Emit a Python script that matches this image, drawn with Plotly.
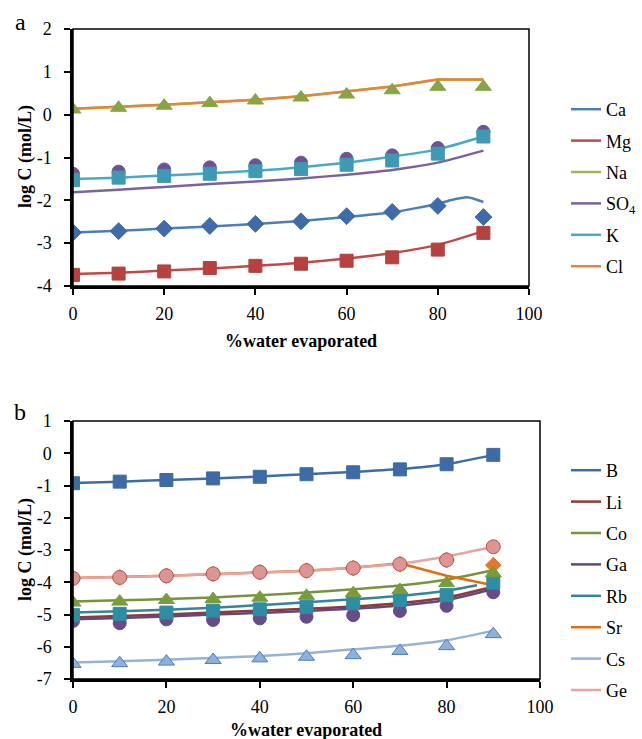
import plotly.graph_objects as go

# ---------------- Data: panel a ----------------
x_pts = [0, 10, 20, 30, 40, 50, 60, 70, 80, 90]

ca_line_x = [0, 10, 20, 30, 40, 50, 60, 70, 80, 83, 86.5, 90]
ca_line = [-2.75, -2.71, -2.66, -2.61, -2.55, -2.48, -2.39, -2.28, -2.08, -1.99, -1.93, -2.04]
mg_line = [-3.72, -3.69, -3.64, -3.59, -3.53, -3.46, -3.36, -3.23, -3.04, -2.72]
na_line = [0.14, 0.18, 0.23, 0.29, 0.35, 0.43, 0.55, 0.66, 0.82, 0.82]
so4_line = [-1.81, -1.75, -1.69, -1.62, -1.56, -1.49, -1.40, -1.29, -1.12, -0.84]
k_line = [-1.50, -1.47, -1.42, -1.37, -1.31, -1.23, -1.12, -0.98, -0.81, -0.51]
cl_line = [0.14, 0.18, 0.23, 0.29, 0.35, 0.43, 0.55, 0.66, 0.82, 0.82]

ca_meas = [-2.75, -2.72, -2.66, -2.60, -2.55, -2.49, -2.37, -2.27, -2.13, -2.39]
mg_meas = [-3.74, -3.71, -3.66, -3.58, -3.53, -3.48, -3.41, -3.33, -3.15, -2.76]
na_meas = [0.12, 0.16, 0.21, 0.27, 0.33, 0.40, 0.47, 0.57, 0.65, 0.65]
so4_meas = [-1.38, -1.33, -1.28, -1.23, -1.18, -1.12, -1.03, -0.95, -0.78, -0.40]
k_meas = [-1.53, -1.47, -1.43, -1.38, -1.32, -1.27, -1.17, -1.07, -0.91, -0.51]

# ---------------- Data: panel b ----------------
b_line = [-0.92, -0.88, -0.83, -0.78, -0.72, -0.65, -0.58, -0.49, -0.34, -0.05]
li_line = [-5.09, -5.05, -5.00, -4.94, -4.88, -4.82, -4.75, -4.64, -4.47, -4.14]
co_line = [-4.60, -4.56, -4.52, -4.47, -4.40, -4.32, -4.22, -4.10, -3.92, -3.63]
ga_line = [-5.15, -5.11, -5.06, -5.00, -4.95, -4.89, -4.82, -4.72, -4.55, -4.21]
rb_line_x = [0, 10, 20, 30, 40, 50, 60, 70, 80, 86.5]
rb_line = [-4.94, -4.90, -4.85, -4.79, -4.71, -4.62, -4.53, -4.42, -4.26, -4.09]
sr_line = [-3.87, -3.84, -3.80, -3.75, -3.70, -3.64, -3.55, -3.41, -3.80, -4.09]
cs_line = [-6.49, -6.45, -6.40, -6.35, -6.29, -6.20, -6.08, -5.97, -5.80, -5.50]
ge_line = [-3.87, -3.84, -3.80, -3.75, -3.70, -3.64, -3.55, -3.42, -3.20, -2.90]

b_meas = [-0.93, -0.88, -0.83, -0.78, -0.73, -0.65, -0.59, -0.50, -0.34, -0.05]
co_meas = [-4.63, -4.60, -4.55, -4.52, -4.48, -4.42, -4.34, -4.24, -4.03, -3.72]
ga_meas = [-5.20, -5.27, -5.15, -5.17, -5.12, -5.07, -5.02, -4.89, -4.73, -4.31]
rb_meas = [-5.02, -4.98, -4.94, -4.88, -4.84, -4.76, -4.65, -4.55, -4.40, -4.01]
sr_meas = [-3.88, -3.85, -3.80, -3.74, -3.69, -3.64, -3.56, -3.44, -3.31, -3.47]
cs_meas = [-6.53, -6.51, -6.46, -6.41, -6.36, -6.31, -6.26, -6.13, -5.98, -5.61]
ge_meas = [-3.88, -3.85, -3.80, -3.74, -3.69, -3.64, -3.56, -3.44, -3.31, -2.90]

x_ticks = [0, 20, 40, 60, 80, 100]
ya_ticks = [2, 1, 0, -1, -2, -3, -4]
ya_ticktext = ["2", "1", "0", "-1", "-2", "-3", "-4"]
yb_ticks = [1, 0, -1, -2, -3, -4, -5, -6, -7]
yb_ticktext = ["1", "0", "-1", "-2", "-3", "-4", "-5", "-6", "-7"]

FONT = "Liberation Serif, Times New Roman, serif"

fig = go.Figure()


def line(x, y, name, color, xa, ya, leg, group, width=2.5, shape="spline"):
    fig.add_trace(go.Scatter(
        x=x, y=y, name=name, mode="lines",
        line=dict(color=color, width=width, shape=shape,
                  smoothing=0.6 if shape == "spline" else None),
        xaxis=xa, yaxis=ya, legend=leg, legendgroup=group,
        hoverinfo="skip"))


def marks(x, y, symbol, color, xa, ya, size=12, edge=None):
    fig.add_trace(go.Scatter(
        x=x, y=y, mode="markers", showlegend=False,
        marker=dict(symbol=symbol, color=color, size=size,
                    line=dict(color=edge or color, width=1)),
        xaxis=xa, yaxis=ya, hoverinfo="skip"))


# Panel a lines
line(ca_line_x, ca_line, "Ca", "#4A7EBB", "x", "y", "legend", "a1")
line(x_pts, mg_line, "Mg", "#BE4B48", "x", "y", "legend", "a2")
line(x_pts, na_line, "Na", "#98B954", "x", "y", "legend", "a3", shape="linear")
line(x_pts, so4_line, "SO<sub>4</sub>", "#7D60A0", "x", "y", "legend", "a4")
line(x_pts, k_line, "K", "#46AAC5", "x", "y", "legend", "a5")
line(x_pts, cl_line, "Cl", "#E8843A", "x", "y", "legend", "a6", shape="linear")

# Panel a markers
marks(x_pts, ca_meas, "diamond", "#3F6CA8", "x", "y", size=13)
marks(x_pts, mg_meas, "square", "#B5423F", "x", "y", size=13)
marks(x_pts, na_meas, "triangle-up", "#86A544", "x", "y", size=14)
marks(x_pts, so4_meas, "circle", "#6E5394", "x", "y", size=13)
marks(x_pts, k_meas, "square", "#3E9AB3", "x", "y", size=13)

# Panel b lines
line(x_pts, b_line, "B", "#3C6BA5", "x2", "y2", "legend2", "b1")
line(x_pts, li_line, "Li", "#953735", "x2", "y2", "legend2", "b2")
line(x_pts, co_line, "Co", "#77933C", "x2", "y2", "legend2", "b3")
line(x_pts, ga_line, "Ga", "#5F4A7D", "x2", "y2", "legend2", "b4")
line(rb_line_x, rb_line, "Rb", "#31859C", "x2", "y2", "legend2", "b5")
line(x_pts, sr_line, "Sr", "#E46C0A", "x2", "y2", "legend2", "b6", shape="linear")
line(x_pts, cs_line, "Cs", "#95B3D7", "x2", "y2", "legend2", "b7")
line(x_pts, ge_line, "Ge", "#E6A3A2", "x2", "y2", "legend2", "b8")

# Panel b markers
marks(x_pts, b_meas, "square", "#3C6BA5", "x2", "y2", size=13)
marks(x_pts, sr_meas, "diamond", "#E2782A", "x2", "y2", size=12)
marks(x_pts, ga_meas, "circle", "#664D8A", "x2", "y2", size=13)
marks(x_pts, rb_meas, "square", "#2E8DA3", "x2", "y2", size=13)
marks(x_pts, co_meas, "triangle-up", "#7A9B3C", "x2", "y2", size=14)
marks(x_pts, cs_meas, "triangle-up", "#8DB0DC", "x2", "y2", size=14, edge="#4A7EBB")
marks(x_pts, ge_meas, "circle", "#DB9593", "x2", "y2", size=14, edge="#C0504D")

W, H = 642, 739


def px(v):
    return v / W


def py(v):
    return 1 - v / H


axis_common = dict(
    showgrid=False, zeroline=False, showline=True, linecolor="black",
    linewidth=2.5, ticks="outside", ticklen=6, tickwidth=2, tickcolor="black",
    tickfont=dict(family=FONT, size=18, color="black"), fixedrange=True,
    automargin=False,
)

fig.update_layout(
    width=W, height=H, margin=dict(l=0, r=0, t=0, b=0, pad=0, autoexpand=False),
    paper_bgcolor="white", plot_bgcolor="white",
    font=dict(family=FONT, size=17, color="black"),
    xaxis=dict(axis_common, domain=[px(73), px(529)], range=[0, 100],
               tickvals=x_ticks, anchor="y", ticklabelstandoff=4),
    yaxis=dict(axis_common, domain=[py(286), py(29)], range=[-4, 2],
               tickvals=ya_ticks, ticktext=ya_ticktext, anchor="x",
               ticklabelstandoff=9),
    xaxis2=dict(axis_common, domain=[px(73), px(540)], range=[0, 100],
                tickvals=x_ticks, anchor="y2", ticklabelstandoff=4),
    yaxis2=dict(axis_common, domain=[py(679), py(421)], range=[-7, 1],
                tickvals=yb_ticks, ticktext=yb_ticktext, anchor="x2",
                ticklabelstandoff=9),
    legend=dict(x=px(566), y=py(91), xanchor="left", yanchor="top",
                font=dict(family=FONT, size=18, color="black"),
                tracegroupgap=5, bgcolor="rgba(0,0,0,0)", itemwidth=30),
    legend2=dict(x=px(566), y=py(452), xanchor="left", yanchor="top",
                 font=dict(family=FONT, size=18, color="black"),
                 tracegroupgap=5, bgcolor="rgba(0,0,0,0)", itemwidth=30),
    shapes=[
        dict(type="rect", xref="x domain", yref="y domain", x0=0, x1=1, y0=0, y1=1,
             line=dict(color="black", width=1.5), layer="above"),
        dict(type="rect", xref="x2 domain", yref="y2 domain", x0=0, x1=1, y0=0, y1=1,
             line=dict(color="black", width=1.5), layer="above"),
    ],
    annotations=[
        dict(text="a", x=px(20), y=py(22), xref="paper", yref="paper", showarrow=False,
             xanchor="center", yanchor="middle", font=dict(family=FONT, size=24)),
        dict(text="b", x=px(20), y=py(412), xref="paper", yref="paper", showarrow=False,
             xanchor="center", yanchor="middle", font=dict(family=FONT, size=24)),
        dict(text="<b>%water evaporated</b>", x=px(301), y=py(341), xref="paper",
             yref="paper", showarrow=False, xanchor="center", yanchor="middle",
             font=dict(family=FONT, size=18)),
        dict(text="<b>%water evaporated</b>", x=px(306), y=py(730), xref="paper",
             yref="paper", showarrow=False, xanchor="center", yanchor="middle",
             font=dict(family=FONT, size=18)),
        dict(text="<b>log C (mol/L)</b>", x=px(25), y=py(157), xref="paper",
             yref="paper", showarrow=False, textangle=-90, xanchor="center",
             yanchor="middle", font=dict(family=FONT, size=18)),
        dict(text="<b>log C (mol/L)</b>", x=px(25), y=py(550), xref="paper",
             yref="paper", showarrow=False, textangle=-90, xanchor="center",
             yanchor="middle", font=dict(family=FONT, size=18)),
    ],
)

post = """
var de = document.documentElement, b = document.body;
de.style.margin='0'; de.style.padding='0'; de.style.overflow='hidden';
b.style.margin='0'; b.style.padding='0'; b.style.overflow='hidden';
"""

fig.write_html("out.html", post_script=post, config={"displayModeBar": False})
